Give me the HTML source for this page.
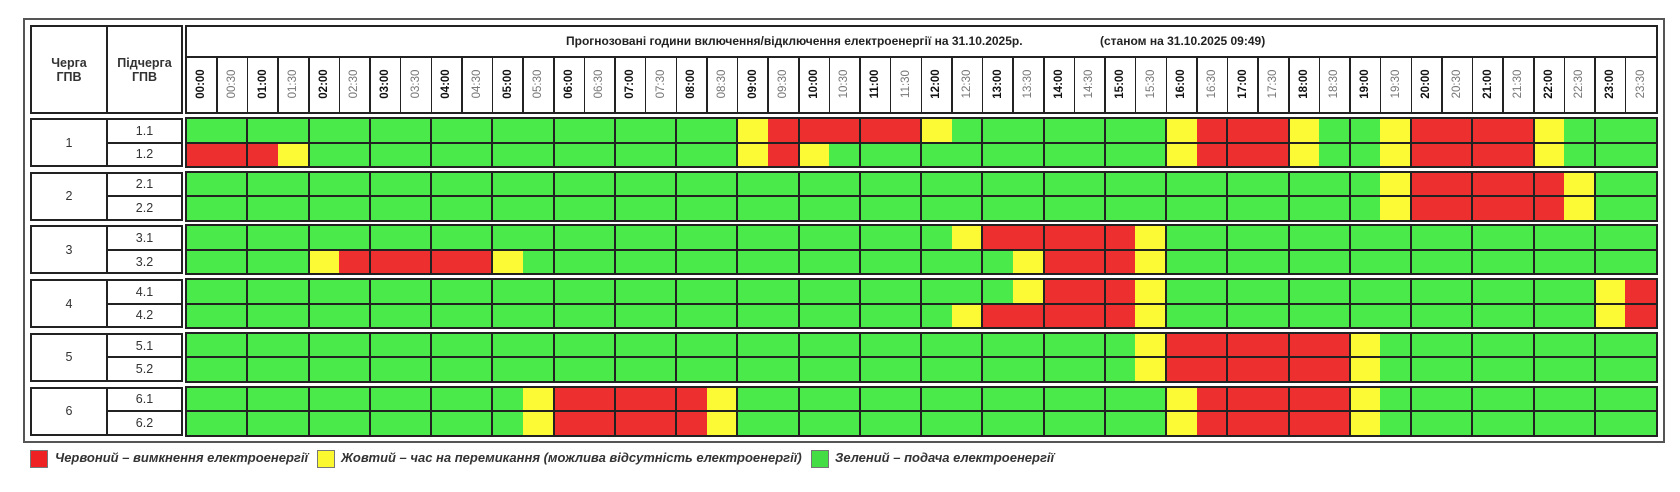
<!DOCTYPE html>
<html><head><meta charset="utf-8">
<style>
body{margin:0;background:#fff;width:1680px;height:492px;overflow:hidden;font-family:"Liberation Sans",sans-serif;}
#root{position:relative;width:1680px;height:492px;}
.abs{position:absolute;box-sizing:border-box;}
.lbl{display:flex;align-items:center;justify-content:center;text-align:center;color:#333;}
.tlab{position:absolute;transform:rotate(-90deg);transform-origin:center;font-size:11.5px;white-space:nowrap;}
.leg{position:absolute;top:450px;font-size:13px;font-weight:bold;font-style:italic;color:#333;white-space:nowrap;}
.sw{position:absolute;top:450px;width:18px;height:18px;border:1px solid #777;box-sizing:border-box;}
</style></head><body>
<div id="root">
  <div class="abs" style="left:23px;top:18px;width:1642px;height:425px;border:2px solid #555;"></div>
  <div class="abs lbl" style="left:30px;top:25px;width:78px;height:89px;border:2px solid #222;font-weight:bold;font-size:12.5px;line-height:14px;">Черга<br>ГПВ</div>
  <div class="abs lbl" style="left:106px;top:25px;width:77px;height:89px;border:2px solid #222;font-weight:bold;font-size:12.5px;line-height:14px;">Підчерга<br>ГПВ</div>
  <div class="abs" style="left:185px;top:25px;width:1473px;height:89px;border:2px solid #222;"></div>
  <div class="abs" style="left:185px;top:56px;width:1473px;height:2px;background:#222;"></div>
  <div class="abs" style="left:566px;top:34px;font-size:12px;font-weight:bold;color:#222;white-space:nowrap;">Прогнозовані години включення/відключення електроенергії на 31.10.2025р.</div>
  <div class="abs" style="left:1100px;top:34px;font-size:12px;font-weight:bold;color:#222;white-space:nowrap;">(станом на 31.10.2025 09:49)</div>

  <div class="sw" style="left:30px;background:#ee2222;"></div>
  <div class="leg" style="left:55px;">Червоний – вимкнення електроенергії</div>
  <div class="sw" style="left:317px;background:#fbf830;"></div>
  <div class="leg" style="left:341px;">Жовтий – час на перемикання (можлива відсутність електроенергії)</div>
  <div class="sw" style="left:811px;background:#44dd44;"></div>
  <div class="leg" style="left:835px;">Зелений – подача електроенергії</div>
</div>
<script>
// 0 = green, 1 = yellow, 2 = red ; 48 half-hour slots per sub-queue
const subqueues = ["1.1","1.2","2.1","2.2","3.1","3.2","4.1","4.2","5.1","5.2","6.1","6.2"];
const groups = ["1","2","3","4","5","6"];
const times = [];
for (let h=0; h<24; h++){ const hh=String(h).padStart(2,'0'); times.push(hh+":00"); times.push(hh+":30"); }
const s11 = [0,0,0,0,0,0,0,0,0,0,0,0,0,0,0,0,0,0,1,2,2,2,2,2,1,0,0,0,0,0,0,0,1,2,2,2,1,0,0,1,2,2,2,2,1,0,0,0];
const s12 = [2,2,2,1,0,0,0,0,0,0,0,0,0,0,0,0,0,0,1,2,1,0,0,0,0,0,0,0,0,0,0,0,1,2,2,2,1,0,0,1,2,2,2,2,1,0,0,0];
const s21 = [0,0,0,0,0,0,0,0,0,0,0,0,0,0,0,0,0,0,0,0,0,0,0,0,0,0,0,0,0,0,0,0,0,0,0,0,0,0,0,1,2,2,2,2,2,1,0,0];
const s22 = [0,0,0,0,0,0,0,0,0,0,0,0,0,0,0,0,0,0,0,0,0,0,0,0,0,0,0,0,0,0,0,0,0,0,0,0,0,0,0,1,2,2,2,2,2,1,0,0];
const s31 = [0,0,0,0,0,0,0,0,0,0,0,0,0,0,0,0,0,0,0,0,0,0,0,0,0,1,2,2,2,2,2,1,0,0,0,0,0,0,0,0,0,0,0,0,0,0,0,0];
const s32 = [0,0,0,0,1,2,2,2,2,2,1,0,0,0,0,0,0,0,0,0,0,0,0,0,0,0,0,1,2,2,2,1,0,0,0,0,0,0,0,0,0,0,0,0,0,0,0,0];
const s41 = [0,0,0,0,0,0,0,0,0,0,0,0,0,0,0,0,0,0,0,0,0,0,0,0,0,0,0,1,2,2,2,1,0,0,0,0,0,0,0,0,0,0,0,0,0,0,1,2];
const s42 = [0,0,0,0,0,0,0,0,0,0,0,0,0,0,0,0,0,0,0,0,0,0,0,0,0,1,2,2,2,2,2,1,0,0,0,0,0,0,0,0,0,0,0,0,0,0,1,2];
const s51 = [0,0,0,0,0,0,0,0,0,0,0,0,0,0,0,0,0,0,0,0,0,0,0,0,0,0,0,0,0,0,0,1,2,2,2,2,2,2,1,0,0,0,0,0,0,0,0,0];
const s52 = [0,0,0,0,0,0,0,0,0,0,0,0,0,0,0,0,0,0,0,0,0,0,0,0,0,0,0,0,0,0,0,1,2,2,2,2,2,2,1,0,0,0,0,0,0,0,0,0];
const s61 = [0,0,0,0,0,0,0,0,0,0,0,1,2,2,2,2,2,1,0,0,0,0,0,0,0,0,0,0,0,0,0,0,1,2,2,2,2,2,1,0,0,0,0,0,0,0,0,0];
const s62 = [0,0,0,0,0,0,0,0,0,0,0,1,2,2,2,2,2,1,0,0,0,0,0,0,0,0,0,0,0,0,0,0,1,2,2,2,2,2,1,0,0,0,0,0,0,0,0,0];
const series = [s11,s12,s21,s22,s31,s32,s41,s42,s51,s52,s61,s62];

const root = document.getElementById('root');
const colors = ['#4aea4a','#fcf935','#ee2f2f'];
const gx0 = 186, gx1 = 1656, slotW = (gx1-gx0)/48;
const xOf = i => gx0 + i*slotW;
const gTop = g => 118 + g*53.7;
const rowH = 24.5;
function box(l,t,w,h,style){
  const d=document.createElement('div'); d.className='abs';
  d.style.cssText=`left:${l}px;top:${t}px;width:${w}px;height:${h}px;`+style;
  root.appendChild(d); return d;
}
times.forEach((t,i)=>{
  const x=xOf(i);
  if(i>0){ const ln=box(x-0.5,57,1.5,57,'background:#222;');
    
     }
  const s=document.createElement('div'); s.className='tlab';
  s.textContent=t;
  s.style.left=(x+slotW/2-20)+'px'; s.style.top=(78)+'px'; s.style.width='40px'; s.style.textAlign='center';
  if(i%2===0){s.style.fontWeight='bold';s.style.color='#111';}else{s.style.color='#777';}
  
  
  root.appendChild(s);
});
groups.forEach((g,gi)=>{
  const top=gTop(gi);
  const a=box(30,top,78,49,'border:2px solid #222;display:flex;align-items:center;justify-content:center;font-size:12.5px;color:#333;');
  a.textContent=g;
  
  
  for(let r=0;r<2;r++){
    const idx=gi*2+r;
    const b=box(106,top+r*(rowH-1),77,rowH+1,'border:2px solid #222;display:flex;align-items:center;justify-content:center;font-size:12.5px;color:#333;');
    b.textContent=subqueues[idx];
    
    
    series[idx].forEach((v,i)=>{
      const c=box(xOf(i),top+r*rowH,slotW+0.6,rowH,'background:'+colors[v]+';');
      
      
    });
  }
  const fr=box(gx0-1,top-1,gx1-gx0+3,51,'border:2px solid #222;');
  
  
  const mid=box(gx0,top+rowH-1,gx1-gx0,2,'background:#222;');
  
  
  for(let h=1;h<24;h++){
    const vl=box(xOf(h*2)-1,top,2,49,'background:#222;');
    
    
  }
});
</script>
</body></html>
